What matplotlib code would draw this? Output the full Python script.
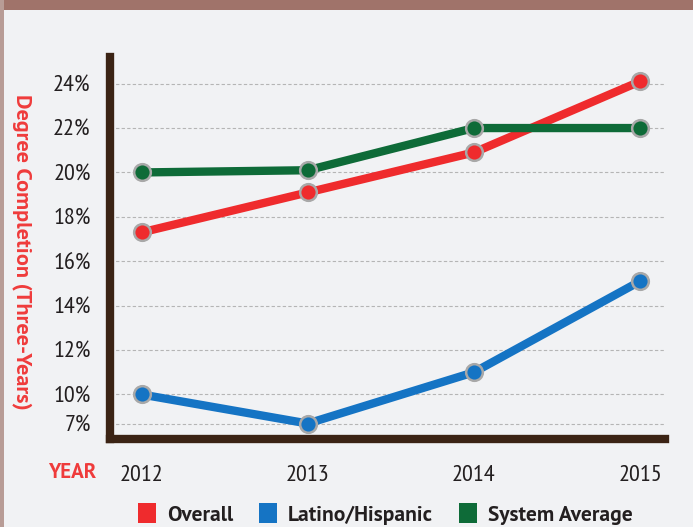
import numpy as np
import matplotlib.pyplot as plt
from matplotlib.patches import Rectangle, Patch

# Data
years = [2012, 2013, 2014, 2015]
overall = [17.3, 19.1, 20.9, 24.1]
latino = [10.0, 7.0, 11.0, 15.1]
system_avg = [20.0, 20.1, 22.0, 22.0]
series_names = ['Overall', 'Latino/Hispanic', 'System Average']
series_colors = ['#ef2b2d', '#1574c4', '#0e6b38']
ytick_values = [7, 10, 12, 14, 16, 18, 20, 22, 24]
ytick_labels = ['7%', '10%', '12%', '14%', '16%', '18%', '20%', '22%', '24%']

# The axis is squeezed below 10%
squeeze = 0.436


def forward(v):
    v = np.asarray(v, dtype=float)
    return np.where(v < 10, 10 - (10 - v) * squeeze, v)


def inverse(v):
    v = np.asarray(v, dtype=float)
    return np.where(v < 10, 10 - (10 - v) / squeeze, v)


tick_font = ['PT Sans Narrow', 'DejaVu Sans']
label_font = ['PT Sans', 'DejaVu Sans']
text_color = '#231f20'
bg = '#f1f2f4'

fig = plt.figure(figsize=(6.93, 5.27), dpi=100, facecolor=bg)

# top band and left edge
fig.patches.append(Rectangle((0, 1 - 10 / 527), 1, 10 / 527, transform=fig.transFigure,
                             facecolor='#a0736a', edgecolor='none', zorder=0))
fig.patches.append(Rectangle((0, 0), 4 / 693, 1, transform=fig.transFigure,
                             facecolor='#b89c96', edgecolor='none', zorder=0))

ax = fig.add_axes([110 / 693, 88 / 527, 555 / 693, 382 / 527])
ax.set_facecolor(bg)
ax.set_yscale('function', functions=(forward, inverse))

for vals, name, col in zip([overall, latino, system_avg], series_names, series_colors):
    ax.plot(years, vals, color=col, lw=6, solid_capstyle='round', zorder=3,
            marker='o', markersize=12, markerfacecolor=col,
            markeredgecolor='#a8a8a8', markeredgewidth=1.8, label=name)

ax.set_xlim(2011.81, 2015.15)
ax.set_ylim(5.4, 25.2)

ax.set_yticks(ytick_values)
ax.set_yticklabels(ytick_labels, fontfamily=tick_font, fontsize=17.5, color=text_color)
ax.set_xticks(years)
ax.set_xticklabels([str(y) for y in years], fontfamily=tick_font, fontsize=17.5, color=text_color)
ax.tick_params(axis='both', length=0)
ax.tick_params(axis='y', pad=14)
ax.tick_params(axis='x', pad=19)
ax.minorticks_off()

ax.grid(axis='y', color='#b5b5b5', linestyle=(0, (3, 2)), linewidth=0.8, zorder=0)
ax.grid(axis='x', visible=False)

for side in ['top', 'right']:
    ax.spines[side].set_visible(False)
for side in ['left', 'bottom']:
    ax.spines[side].set_color('#3b2314')
    ax.spines[side].set_linewidth(6)
    ax.spines[side].set_capstyle('projecting')

fig.text(22 / 693, 1 - 252 / 527, 'Degree Completion (Three-Years)', rotation=270,
         ha='center', va='center', color='#ef3b3b', fontsize=16, fontweight='bold',
         fontfamily=label_font)
fig.text(72 / 693, 1 - 473 / 527, 'YEAR', ha='center', va='center', color='#ef3b3b',
         fontsize=15, fontweight='bold', fontfamily=label_font)

handles = [Patch(facecolor=c, edgecolor='none') for c in series_colors]
leg = fig.legend(handles, series_names, loc='center', bbox_to_anchor=(385 / 693, 1 - 514 / 527),
                 ncol=3, frameon=False, handlelength=0.85, handleheight=1.0,
                 handletextpad=0.5, columnspacing=1.2,
                 prop={'family': label_font, 'weight': 'bold', 'size': 15.5})
for t in leg.get_texts():
    t.set_color(text_color)

fig.savefig('out.png', dpi=100, facecolor=bg)
